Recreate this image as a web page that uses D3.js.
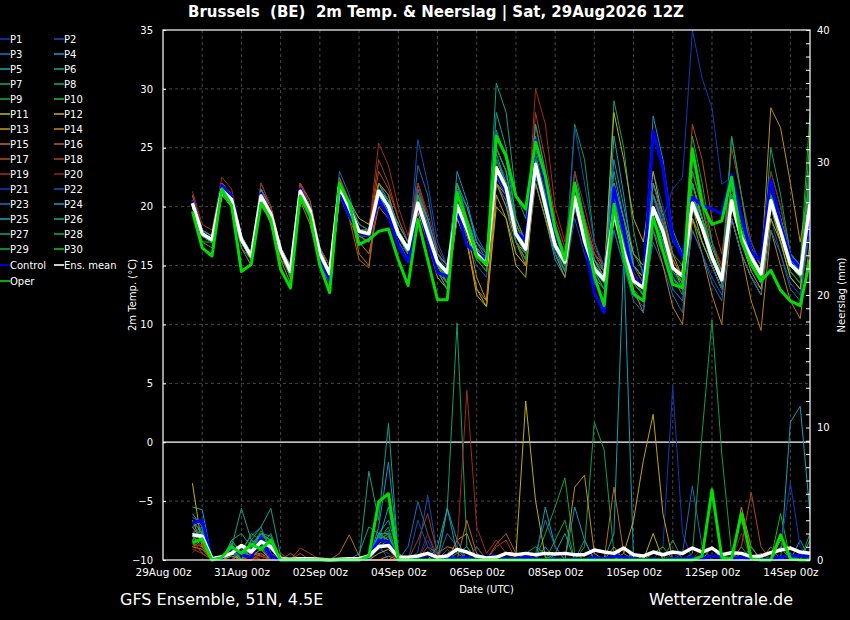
<!DOCTYPE html>
<html>
<head>
<meta charset="utf-8">
<script src="https://cdn.jsdelivr.net/npm/d3@7"></script>
<style>
  body { margin: 0; background: #000; }
  svg { display: block; font-family: "DejaVu Sans", sans-serif; }
</style>
</head>
<body>
<div id="chart"></div>
<script>
// run 29Aug2026 12Z, 6-hourly steps out to +384h
const runTime = Date.UTC(2026, 7, 29, 12);
const stepHours = d3.range(6, 385, 6);

const tempTicks = [-10, -5, 0, 5, 10, 15, 20, 25, 30, 35];
const rainTicks = [0, 10, 20, 30, 40];
const dateTicks = ['2026-08-29', '2026-08-31', '2026-09-02', '2026-09-04', '2026-09-06',
  '2026-09-08', '2026-09-10', '2026-09-12', '2026-09-14'];

// 2m temperature (°C)
const meanTemp = [20.3,17.7,17.2,21.4,20.6,17.2,15.8,20.9,19.4,16.3,14.5,21.3,19.7,16.0,14.3,21.7,
  19.9,17.9,17.7,21.3,20.0,17.7,16.4,20.3,17.8,15.3,14.4,20.1,18.1,16.0,15.1,23.3,
  21.6,17.7,16.4,23.6,20.1,16.7,15.3,20.8,17.1,14.7,13.8,19.6,16.2,13.7,13.1,19.9,
  17.9,14.8,14.1,20.3,18.2,15.7,13.8,20.5,17.4,15.7,14.3,20.5,17.9,15.1,14.3,20.2];
const controlTemp = [20.5,17.7,17.2,21.8,20.9,17.2,15.8,21.1,19.4,16.3,14.5,21.5,19.7,15.8,13.7,21.2,
  19.2,17.8,17.5,20.6,19.2,16.7,15.3,20.3,17.2,14.4,14.1,19.8,16.7,16.1,15.5,23.0,
  21.2,17.8,17.2,25.6,22.0,17.5,15.8,20.6,17.0,12.7,11.0,21.6,17.9,14.0,13.3,26.4,
  23.3,17.4,15.7,20.8,20.1,19.8,19.4,22.7,19.1,16.2,15.4,22.3,18.5,15.7,14.8,18.8];
const operTemp = [19.6,16.5,15.8,21.5,20.1,14.5,15.1,20.3,18.9,14.7,13.1,20.9,19.2,15.0,12.7,22.0,
  20.3,16.8,17.2,17.9,18.1,15.5,13.3,18.9,15.5,12.1,12.1,21.2,18.6,15.8,15.1,26.0,
  24.3,20.9,19.8,25.5,22.6,18.1,15.5,22.0,18.4,14.1,11.6,20.2,15.7,12.6,12.0,19.1,
  16.2,13.4,13.1,24.9,20.2,18.5,18.8,22.5,17.1,15.1,13.7,14.6,12.9,12.0,11.6,15.5];

const tP01 = [20.5,18,17.5,22,21,17.5,16,21.5,19.5,16.5,15,21.5,20,16.5,14.5,22, 20.5,18.5,18,22,20.5,18,16.5,21,19,16,15,21,19,17,16,24, 22.5,19,17,25,22,18,16,22,19,16,15,22,18,15,14,23, 20,17,16,21,19,17,15,22,19,17,15,22,19,16,15,21];
const tP02 = [20,17.5,17,21,20,17,15.5,20.5,19,16,14,21,19.5,15.5,14,21.5, 19.5,17.5,17,21,19,17,16,20,17,14.5,13.5,19,17,15,14,22, 20,16,15,22,19,16,14,19,16,13.5,12.5,18,15,12.5,11.5,18, 16,13,12,18,16,14,12.5,19,16,14,13,19,16,13.5,12.5,18];
const tP03 = [20.5,18,17.5,22,21,17.5,16,22,20,16.5,15,22,20.5,16.5,14.5,23, 21,18,17.5,22,20,17,15.5,23.5,21,16,14.5,21.5,20,17.5,16,25, 23,18,16.5,24,21,17,15.5,21,18,15,14,19,15.5,13,12,17, 15,12.5,11,19,17,15,13,21,18,16,14.5,21,18,15,14,20];
const tP04 = [20,17.5,17,21.5,20.5,17,15.5,21,19.5,16,14.5,21.5,20,16,14,22.5, 20,18,17.5,21,19.5,17.5,16,22,19,15.5,14,23,20.5,17,15.5,22, 20.5,17,15.5,23,20,16.5,14.5,23,19,15.5,14,24,20,16,14.5,21, 18.5,15,14,22,19,16,14,21,18,16,14.5,22,19,16,15,21];
const tP05 = [20.5,18,17.5,21.5,21,17.5,16,21,19,16,14.5,21,19.5,16,14,21.5, 20,18,18,21.5,20.5,18,16.5,20.5,18,15,13.5,21,19,16,15,24, 22,18,16.5,22,19,15.5,14,20,17,14,13,26,21,15,13.5,20, 18,15,14,21,19,16.5,14.5,20,17,15.5,14,20,18,15,14,22];
const tP06 = [20,17.5,17,22,21,17,16,21.5,19.5,16.5,14.5,22,20,16,14.5,22, 20,18,17.5,22,20.5,18.5,17,21,18.5,16,15,22,19,16.5,15.5,30.5, 28,21,19,26,22,18,16,22,18,15,14,21,17,14,13,20, 18,15,14,22,19,16,14,21,18,16,14.5,20,18,15,14,19];
const tP07 = [20,17.5,17,21,20.5,17,15.5,20.5,19,16,14,21,19.5,15.5,14,21.5, 19.5,17.5,17.5,21,20,18,16.5,19.5,17.5,15,14,20,18,16,15,22, 21,17.5,16,24,21,17,15.5,20,17,14.5,13.5,29,25,18,14,21, 18,15,14,20,18,15.5,13.5,21,18,16,14.5,21,18.5,15.5,14.5,21];
const tP08 = [20,17.5,17,21,20.5,17,16,21,19,16,14.5,21,19.5,16,14,21.5, 20,18,18,21.5,20,18,16.5,20,18,15.5,14.5,19.5,18,16,15,23, 22,18,16.5,23,20,16.5,15,27,24,17,14.5,20,17,14,13,19, 17,14,13,19,17,15,13,26,21,16,14,20,17,15,14,24];
const tP09 = [20,18,17.5,21.5,21,17.5,16,21,19.5,16.5,14.5,21,20,16,14.5,21.5, 20,18,18,21,20,18,16.5,20.5,18,15.5,14,20,18.5,16,15,24, 22,18,16,23,19.5,16,14.5,20,17,14.5,13,20,16.5,13.5,12.5,22, 19,15,14,21,18,15.5,13.5,20,17,15,13.5,23,20,16,15,28];
const tP10 = [19.5,17,16.5,21,20,17,15.5,20.5,19,16,14,20.5,19.5,15.5,13.5,21, 19.5,17.5,17,21,20,17.5,16,20,17.5,14.5,13.5,19.5,17.5,15.5,14.5,23, 21,17,15.5,23,20,16.5,15,20.5,17.5,15,14,19,16,13.5,12.5,19, 17,14,13,19,17,15,13,20,17,15,13.5,21,18,14.5,13.5,20];
const tP11 = [20,17.5,17,21.5,20.5,17,15.5,21,19.5,16,14.5,21.5,20,16,14.5,22, 20.5,19,18.5,22,21,18,16.5,19.5,17,14,13,19,17,12.5,11.5,21, 19,15,14,23,20,17,15,21,17.5,15,14,28,24,19,17,23, 19,15,13,20,17,15,13,19,16,14,12.5,19,17,14,13,19];
const tP12 = [20.5,18,17.5,22,21,17.5,16,21.5,20,16.5,15,22,20,16.5,15,22, 20,18,17.5,21.5,20,17.5,16,20,17.5,15,13.5,20,17,13,11.5,20, 19,16,15,24,21,17,15,21,18,15.5,14,22,19,16,15,21, 19,15.5,14,20,18,15,13,20,17,14.5,13,20,17,14,13,20];
const tP13 = [21,18,17.5,22,21,17.5,16,21.5,19.5,16,15,21.5,20,16,14.5,22, 20,17.5,17,21,20,17.5,16,21,18,15,14,20,18,14,12,22, 20,17,16,25,22,18,16,22,19,16,14.5,21,18,15,14,22, 19,16,14,22,19,16,14,22,19,16,14.5,28.4,26.7,22,17,22];
const tP14 = [20.5,17.5,17,21,20,16.5,15,20.5,18.5,15.5,13.5,20.5,18.5,15,13.5,21, 19,17,16,20,19,17,15.5,20,17.5,14.5,13,19,17,13,12,22, 21,17,15,22,19,16,14,20,17.5,15,14,21,17,13,11,18, 15,11.5,10,19,16,12.5,10,19,16,12,9.5,18,15,12,10.5,17];
const tP15 = [20.5,18,17.5,21.5,20.5,17,15.5,21,19.5,15.5,14.5,22,20,15.5,14,22, 20,16,15,22,21,18,16,21,18.5,15.5,14.5,21,19,16.5,15,23, 21.5,17.5,16,24,21,17,15,21,18,15.5,14,21,18,15,14,20, 18,15,14,21,18,15.5,13.5,21,18,16,14.5,21,18,15,14,21];
const tP16 = [20.5,18,17.5,22,21,17,15.5,21,19.5,16,14.5,21.5,19.5,16,14.5,22, 19,15.5,14.8,21,20,18,16.5,21,18,15,14,21,18.5,16.5,15,23.5, 22,18,16,25,22,17.5,15.5,21,18,15,14,20,17,14,13,21, 19,15.5,14,25,21,17,14.5,21,18,16,14,21,18,15,14,23];
const tP17 = [21,18,17.5,22,21,17.5,16,21.5,19.5,16.5,15,22,20.5,16.5,15,22.5, 20.5,18,18,23,21.5,19,17,21.5,19,16,15,21,19,16.5,15.5,25, 23,18.5,17,27,23,18.5,16,22,19,16,15,21,18,15,14,20, 18,15,14,27,24,19,16,22,19,16.5,15,22,19,16,15,23];
const tP18 = [21,18,17.5,22,21,17,16,21.5,20,16.5,15,22,20,16,14.5,22, 20,18,18,24,22,19,17,22,19,16,15,20.5,18.5,16,15,23, 21,17.5,16,28,24,19,16.5,22,19,16,14.5,20,17,14,13,21, 18,15,13.5,23,20,17,15,25,21,17,15,21,18,15.5,14.5,22];
const tP19 = [21.3,18.5,18,22.5,21.5,17.5,16,22,20,16.5,15,22,20,16.5,15,22, 20,18.5,18,25.4,23.5,20,17.5,22,19.5,16.5,15,21,19,16,15,24, 22,18,16.5,30,27,20,17,23,20,16.5,15,22,18,15,13.5,21, 18,15,14,23,20,16,14,22,19,16,14.5,22,19,16,14.5,21];
const tP20 = [20.5,18,17.5,21.5,20.5,17,15.5,21,19,16,14.5,21,19.5,16,14.5,21.5, 19.5,17.5,17.5,20.5,19.5,17.5,16,20.5,18,15,14,20,18,16,15,23, 21,17,15.5,24,21,17,15,21,17.5,15,14,20,17,14.5,13,22, 19,15,14,24,21,17,15,21,18,15.5,14,23,20,16,14.5,21];
const tP21 = [20,17.5,17,21.5,20.5,17,16,21,19.5,16,14.5,21.5,20,16,14,22, 20,18,17.5,21,20,18,16.5,21,19,15.5,14.5,20.5,18.5,16,15,24, 22,17.5,16,24,21,17,15,21,18,15,14,20,17.5,15,14,21, 19,21.5,22.5,35,30.9,28.4,21.9,22.5,19,17,15,21,18,15,14,20];
const tP22 = [20,17.5,17,21.5,20.5,17,15.5,20.5,19,16,14.5,21,19.5,16,14,21, 19.5,17.5,17,21,19.5,17,15.5,25.7,22,17,15,22,19,16,15,23, 21,17,15.5,22.5,20,16,14.5,26.8,22,17,15,21,17.5,14,13,21, 18,14.5,13,21,18,15,13,21,18,15,13.5,22,19,16,15,21];
const tP23 = [20.5,18,17.5,21.5,21,17.5,16,21,19,16,14.5,21,19.5,16,14.5,22, 20,18,17.5,21,19.5,17.5,16,21.5,18.5,15,14,21,18.5,16,15,25, 23,18,16,23.5,20,16,14.5,20,17,14.5,13.5,18,15,12,11,18, 16,13,12,18,16,13.5,12,19,16,14,12.5,18,16,13,12,19];
const tP24 = [20,17.5,17,21.5,20.5,17,15.5,21,19.5,16.5,14.5,21.5,20,16,14.5,22, 20,18,17.5,21.5,20.5,18,16.5,20,17.5,14.5,13,20,18,16,15,26.5, 24,19,17,25,22,17.5,15.5,21,18,15.5,14,22,19,15,14,27.7, 24,18,16,20,18,15.5,13.5,21,18,16,14.5,21,18,15.5,14.5,22];
const tP25 = [20.5,18,17.5,21.5,21,17.5,16,21.5,19.5,16.5,15,21.5,20,16.5,14.5,22, 20.5,18.5,18,21.5,20.5,18.5,17,21,19,16,15,22,20,17,16,24.5, 22,18,16.5,24,21,17,15,22,18.5,15.5,14.5,21,18,15,14,22, 19.5,16,15,21,18.5,16,14,22,19,16.5,15,21,19,16,15,21];
const tP26 = [20,17.5,17,21,20.5,17,15.5,21,19.5,16,14.5,21,19.5,16,14,21.5, 20,18,17.5,21,20,17.5,16,20,18,15,14,21,19,16.5,15,28, 25,19,17,27,23,18,16,21,18,15,14,23,19,15,14,21, 18.5,15,13.5,22,19,16,14,21,18,15.5,14,22,19,15.5,14.5,21];
const tP27 = [20,17.5,17,21.5,20.5,17,15.5,21,19,16,14.5,21,19.5,16,14,21.5, 20,18,18,21,20,18,16.5,20.5,18,15.5,14.5,20,18,16,15,23, 21,17,15.5,23,20,16.5,15,21,17,14.5,13,19.5,16,13.5,12.5,20, 17,14,13,23,20,16,14,26,21,16,14,25,21,16,14.5,23];
const tP28 = [20,17.5,17,21,20,16.5,15.5,21,19,16,14,21,19.5,15.5,13.5,21.5, 19.5,17.5,17,21,19.5,17.5,16,20,17.5,15,13.5,21,18.5,16,15,24, 22,17.5,16,24.5,21,16.5,14.5,21,17.5,15,13.5,21,17.5,14,12.5,20, 17.5,14,12.5,26,22,17,14,21,18,15,13.5,20,17.5,14.5,13.5,19];
const tP29 = [20,17.5,17,21.5,20.5,17,15.5,21,19.5,16,14.5,21.5,20,16,14,22, 20,18,17.5,21.5,20,18,16.5,20,18,15,14,20,18,15.5,14.5,22.5, 21,17,15.5,23,20,16.5,15,21,17.5,15,14,20,17,14,13,20, 17.5,14.5,13.5,21,18.5,15.5,13.5,22,18,15.5,14,21,18,15,14,22];
const tP30 = [19.5,17,17,21,20,17,15.5,21,19,16,14.5,21,19.5,16,14,21.5, 20,18,17.5,21,20,17.5,16,21,18,15,14,22,19,16,15,25, 23,18.5,16.5,23,20,17,15,22,18,15,14,20,16.5,13.5,12.5,20, 18,15,13.5,22,19,16,14,22,18.5,15.5,14,22,19,15,14,26];

// 6-hourly precipitation (mm)
const meanRain = [1.9,1.8,0.1,0.25,0.5,1.1,0.6,1.4,1.0,0.1,0.05,0.1,0.1,0.05,0,0.05,
  0.1,0.1,0.3,1.0,1.1,0.2,0.2,0.3,0.5,0.2,0.3,0.8,0.6,0.3,0.15,0.2,
  0.5,0.4,0.5,0.4,0.5,0.45,0.5,0.4,0.4,0.75,0.6,0.5,0.9,0.4,0.3,0.6,
  0.4,0.6,0.5,0.9,0.6,0.9,0.4,0.55,0.5,0.25,0.3,0.55,0.75,0.9,0.6,0.5];
const controlRain = [2.8,3.0,0,0.1,0.9,0.4,0.2,1.7,0.3,0,0,0,0,0,0,0,
  0,0,0.2,1.5,1.4,0.1,0,0.2,0.4,0.1,0.2,0.1,0.2,0,0.2,0.3,
  0.1,0.1,0.2,0.1,0,0.1,0,0.1,0,0.2,0.1,0.3,0.2,0.1,0,0.1,
  0,0.1,0.1,0.2,0.1,0.3,0.2,0.1,0.2,0.1,0,0.1,0.2,0.3,0.3,0.3];
const operRain = [1.3,1.6,0,0.2,1.0,0.5,1.2,0.8,1.5,0,0,0,0,0,0,0,
  0,0,0.3,4.4,5.0,0,0,0,0,0,0,0,0,0,0,0,
  0,0,0,0,0,0,0,0,0,0,0,0,0,0,0,0,
  0,0,0,0,0.3,5.3,0.2,0.1,3.5,0.1,0,0,1.9,0.1,0,0];

const rP01 = [2.5,1.5,0,0,0.5,0.3,1.2,0.8,0,0,0,0,0,0,0,0, 0,0,0,0.8,0.5,0,0,0,1.5,0,0,0,0,0,0,0, 0,0,0,0,0,0,0,0,0,0.5,0,0,0,0,0,0, 1.0,13.1,2.0,0,0,0,0,0,0,0.3,0,0,0,0,0,0];
const rP02 = [1.8,2.2,0,0,0.8,0,0.5,1.0,0.3,0,0,0,0,0,0,0, 0,0,0.5,1.2,0,0,0,0.6,4.9,0.4,0,0,0,0,0,0, 0,0,0,0,0,0,0,0,0,0,0,0,0.3,0,0,0, 0,0,0,0,0,0,0,0,0,0,0,0,0,0.5,0,0];
const rP03 = [3.2,2.8,0,0,0,1.2,0.8,1.5,0.5,0,0,0,0,0,0,0, 0,0,0,1.5,2.0,0,1.0,4.4,2.0,0,0.8,0,0,0,0,0, 0,0,0,0,0,0,0,0,0,0,0,0,0,0,0,0, 0,0,0.5,5.6,1.0,0,0,0,0,0,0,0,0,0.5,0,0];
const rP04 = [2.0,1.5,0,0,1.3,0.8,1.8,2.5,0.5,0,0,0,0,0,0,0, 0,0,0,2.5,7.4,0.5,0,0,0,0,3.9,1.5,0,0,0,0, 0,0,0,0,1.0,0,0,0,0,0,0,0,0,0,0,0, 0,0,0,0,0,0,0,0,0,0,0,0,0,0,1.5,0];
const rP05 = [4.0,3.8,0,0,0.5,0,0.6,1.2,0.8,0,0,0,0,0,0,0, 0,0,0,1.0,1.5,0,0,0,0,0,0,0,0,0,0,0, 0,0,0,0,4.0,1.0,0,0,0,0,0,2.0,23,0,0,0, 0,0,0,0,0,0,0,0,0,0,0,0,0,10.4,11.6,3.5];
const rP06 = [2.5,3.0,0,0,1.0,3.9,1.5,2.5,3.9,0.3,0,0,0,0,0,0, 0,0,6.7,3.0,10.3,0.3,0,0,0,0,0,0.5,1.0,0,0,0, 0,0,0,0,0,0,0,0,1.5,0,0,0,0,0,0,0, 0,0,0,0,0,0,0,0,0,0,0,0,0,0,0,0];
const rP07 = [1.5,2.0,0,0,0.3,0,1.0,1.0,2.0,0,0,0,0,0,0,0, 0,0,0,1.2,1.0,0,0,0,0,0,3.9,17.9,1.0,0,0,0, 0,0,0,0,0,0,0,0,0,0,0,0,0,0.5,0,0, 0,0,0,0,0,0,0,0,0,0,0,0,0,0,0,0];
const rP08 = [2.0,1.5,0,0,1.5,0.5,2.0,1.5,1.0,0,0,0,0,0,0,0, 0,0,0,1.5,2.5,0,0,0,0,0,0,0,0,0,0,0, 0,0,0,0,0,0,0,0,1.0,10.4,8.3,0.5,0,0,0,0, 0,0,0,0,0,0,0,0,0,0,0.5,0,0,0,0,0];
const rP09 = [1.5,2.5,0,0,1.0,0,0.8,2.0,1.5,0,0,0,0,0,0,0, 0,0,0,2.0,1.5,0,0,0,0,0,0,0,0,0,0,0, 0,0,0,0,2.0,4.0,6.2,0.5,0,0,0,0,0,0,0,0, 0,0,0,0,0,0,0,0,1.0,0,0,0,0,0,0,0];
const rP10 = [1.0,1.5,0,0,0.8,0,0.5,1.8,0.5,0,0,0,0,0,0,0, 0,0,0,2.0,2.0,0,0,0,0,0,0,0,0,0,0,0, 0,0,0,0,0,0,0,0,0,0,0,0,0,0.5,0,0, 0,0,0,0,0,0,0,0,0,0,0,0,3.5,0,0,0];
const rP11 = [5.8,1.0,0,0,0,0.5,0.3,0.8,0,0,0,0,0,0,0,0, 0,0,0,0,0,0,0,0,0,0,0,0,0,0,0,0, 0,0.3,12.0,4.5,0.2,0,0,0,0,0,0,0,0,0,0,2.0, 0,0,0,0,0,0,0,0,0,0,0,0,0,0,0,0];
const rP12 = [3.0,1.2,0,0,0.5,0,1.5,1.0,0,0,0,0,0,0,0,0, 0,0,0,0.5,0.8,0,0,0,0,0,0,0,0,0,0,0, 0,0,0,0,0,0,0,0,0,0,0,0,0.5,3.0,7.5,11.0, 3.5,0,0,0,0,0,0,0,0,0,0,0,0,0,0,0];
const rP13 = [1.0,0.8,0,0,0,0,0.4,0.5,0,0,0,0,0,0,0,0, 0,0,0,0,0.3,0,0,0,0,0,0,1.5,2.0,0,0,0, 0,0,0,0,0,0,0,5.5,6.4,0.5,0,0,0,0,0,0, 0,0,0,0,0,0,0,0,4.0,1.0,0,0,0,0,0,0];
const rP14 = [2.5,1.5,0,0,0.3,0,0.5,0.3,0,0,0,0,0,0,0,0, 0,0,0,0,0,0,0,0,0,0.5,1.0,0.8,0,0,0,0, 0,0,0,0,0,0,0,0,0,0,0,1.0,0,0,0,0, 0,0,0,0,0,0,0,0,0,0,0,0,1.5,0,0,0];
const rP15 = [1.8,1.0,0,0,0,0,0,0.5,0,0,0,0,0,0,0,0.5, 1.9,0.3,0,0,0,0,0,0,0,0,0,0,3.0,0.5,0,0, 0,0,0,0,0,0,0,0,0,0,0,5.5,0.5,0,0,0, 0,0,0,0,0,0,0,0,0,0,0,0,0,0,0,0];
const rP16 = [1.2,1.0,0,0,0,0,0.3,0,0,0,0.5,0,0,0,0,0, 0,0,0,0,0,0.5,0,0,0,0,0,0,0,1.0,0,1.2, 2.0,0.5,0,0,0,0,0,0,0,0,0,0,0,0,0,0, 0,0,0,0,0,0,0,0,0,0,0,1.0,0,0,0,0];
const rP17 = [1.5,0.5,0,0,0,0,0,0.5,0,0.5,0,0.5,0,0,0,0, 0,0,0,0,0,0,0,0,1.0,0.5,0,0,0,0,0,0, 0,0,0,0,0,0,0,0,0,0,0,0,0,0,0,0, 0,0,0,0,0,0,0,0,1.0,5.1,1.0,0,0,0,0,0];
const rP18 = [1.0,1.2,0,0,0,0,0.5,0,0,0,0,0.9,0.5,0,0,0, 0,0,0,0,0,0,0,1.5,3.5,0.5,0,0,0,0,0,1.0, 1.5,0,0,0,0,0,0,0,0,0,0,0,0,0,0,0, 0,0,0,0,0,0,0,0,0,0,0,0,0,0,0,0];
const rP19 = [0.8,0.5,0,0,0,0,0,0.3,0,0,0,0,0,0,0,0, 0,0,0,0,0,0,0,0,0,0,0.5,1.0,12.8,2.5,0.5,1.5, 0.5,0,0,0,0,0,0,0,0,0,0,0,0,0,0,0, 0,0,0,0,0,0,0,0,0,0,0,0,0,0,0,0];
const rP20 = [0.5,1.5,0,0,0,0,0.5,0,0.5,0,0,0,0,0,0,0, 0,0,0,0,0,0,0,0,2.0,0.3,0,0,0,0,0,0, 0,0,0,0,0,0,0,0,0,0,0,0,0,0,0,0, 0,0,0,0,1.0,0,0,0,2.0,0,0,0,0,0,0,0];
const rP21 = [2.0,1.8,0,0,0.8,0,1.0,1.5,0,0,0,0,0,0,0,0, 0,0,0,1.0,1.2,0,0,0,0,0,0,0,0,0,0,0, 0,0,0,0,0,0,0,0,0,0,0,0,0,0,0,0, 0,0.5,0,0,0,0,0,0,0,0,0,0,1.0,5.8,1.0,0];
const rP22 = [2.2,2.0,0,0,0,1.0,0.8,1.0,0,0,0,0,0,0,0,0, 0,0,0,1.5,2.0,0,0,3.0,1.0,0,0,0,0,1.0,0,0, 0,0,0,0,0,0,0,0,0,0,0,0,0,0,0,0, 0,0,0,0,0,0,0,0,0,0,0,0,0,0,0.5,0];
const rP23 = [2.8,2.2,0,0,1.0,0,1.2,2.0,1.0,0,0,0,0,0,0,0, 0,0,0,1.8,2.2,0,0,0,0,0,2.0,1.0,0,0,0,0, 0,0,0,0.5,3.0,1.0,0,0,0,0,0,0,0,0,0,0, 0,0,0,0,0,0,0,0,0,0,0,0,0,0,0,0];
const rP24 = [3.5,2.5,0,0,0.8,0,1.5,1.2,1.2,0,0,0,0,0,0,0, 0,0,0,2.0,3.0,0.5,0,0,0,0,0,0,0,0,0,0, 0,0,0,0,0,0,0,4.0,1.5,0,0,0,1.0,0,0,0, 0,0,0,0,0,0,0,0,0,0,0,0,0,0,0,0];
const rP25 = [3.0,2.0,0,0,1.2,0,0.8,2.0,1.8,0,0,0,0,0,0,0, 0,0,0,1.5,4.0,0,0,0,0,1.0,3.9,0.5,0,0,0,0, 0,0,0,0,0,0,0,0,0,0,0,0,0,0,0,0, 0,0,0,0,0,0,0,0,0,0,0,0,0,0,0,1.5];
const rP26 = [2.0,2.5,0,0,1.5,2.0,1.0,2.0,1.5,0,0,0,0,0,0,0, 0,0.5,2.5,2.0,1.5,0,0,0,0,0,0,0,0,0,0,0, 0,0,0,0,0,0.5,2.0,0,0,0,0,0,0,0,0,0, 0,0,0,0,0,0,0,0,0,0,0,0,0,0,0,0];
const rP27 = [1.5,2.0,0,0,1.0,0,1.0,1.8,1.5,0,0,0,0,0,0,0, 0,0,0,1.8,1.5,0,0,0,0,0,0,0,0,0,0,0, 0,0,0.5,1.0,0.5,0,0,0,0,0,0,0,0,0,0,0, 0,1.5,0,0,0,1.0,0,0,0,0,0,0,0,0,0,0];
const rP28 = [2.0,1.8,0,0,0.8,0,1.2,1.5,1.2,0,0,0,0,0,0,0, 0,0,0,1.0,1.0,0,0,0,0,0,0,0,0,0,0,0, 0,0,0,0,0,0,0,0,0,0,0,0,0,0,0,0, 0,0,0,0.5,9.6,18.1,8.0,0.5,0,0,0,0,0,0,0,0];
const rP29 = [1.8,2.2,0,0,1.2,0,1.0,2.2,1.0,0,0,0,0,0,0,0, 0,0,0,1.5,2.0,0,0,0,0,0,0,0,0,0,0,0, 0,0,0,0,0,1.5,3.0,0,0,0,0,0,0,0,0,0, 0,0,0,0,0,0,0,0,0,1.0,0,0,0,0,0,2.0];
const rP30 = [1.5,1.5,0,0,1.0,0,0.8,1.5,1.0,0,0,0,0,0,0,0, 0,0,0,1.2,1.8,0,0,0,0,0,0,0,0,0,0,0, 0,0,0,0,0,0,0,0,0,0,0,0,0,0,0,0.5, 1.0,0,0,0,0,0,0,0,0.5,0,0,0,1.0,0,0,0];

const memberTemps = [tP01,tP02,tP03,tP04,tP05,tP06,tP07,tP08,tP09,tP10,tP11,tP12,tP13,tP14,tP15,
  tP16,tP17,tP18,tP19,tP20,tP21,tP22,tP23,tP24,tP25,tP26,tP27,tP28,tP29,tP30];
const memberRains = [rP01,rP02,rP03,rP04,rP05,rP06,rP07,rP08,rP09,rP10,rP11,rP12,rP13,rP14,rP15,
  rP16,rP17,rP18,rP19,rP20,rP21,rP22,rP23,rP24,rP25,rP26,rP27,rP28,rP29,rP30];
const memberNames = d3.range(1, 31).map(n => 'P' + n);

// palette repeats every 20 members
const memberColors = ['#1438b8','#1050b8','#1a6cb8','#1a90c0','#12a0b0','#10a088','#10a068','#12a048','#14a830','#18b818',
  '#b8b010','#c0a410','#c09010','#c08010','#b86c10','#b05c10','#b04818','#a83c18','#a02c18','#902018'];

const times = stepHours.map(h => new Date(runTime + h * 3600e3));

const W = 850, H = 620;
const box = { l: 163, r: 810, t: 30, b: 560 };

const svg = d3.select('#chart').append('svg')
  .attr('width', W)
  .attr('height', H);

svg.append('rect').attr('width', W).attr('height', H).attr('fill', '#000');

const x = d3.scaleUtc()
  .domain([new Date(Date.UTC(2026, 7, 29, 0)), new Date(Date.UTC(2026, 8, 14, 12))])
  .range([box.l, box.r]);
const yT = d3.scaleLinear().domain([-10, 35]).range([box.b, box.t]);
const yP = d3.scaleLinear().domain([0, 40]).range([box.b, box.t]);

// grid
const days = d3.utcDay.range(new Date(Date.UTC(2026, 7, 30)), new Date(Date.UTC(2026, 8, 14, 1)));
svg.append('g').selectAll('line').data(days).enter().append('line')
  .attr('x1', d => x(d)).attr('x2', d => x(d))
  .attr('y1', box.t).attr('y2', box.b)
  .attr('stroke', '#484848').attr('stroke-dasharray', '3,3');
svg.append('g').selectAll('line').data(tempTicks.filter(t => t !== 0 && t > -10 && t < 35)).enter().append('line')
  .attr('x1', box.l).attr('x2', box.r)
  .attr('y1', d => yT(d)).attr('y2', d => yT(d))
  .attr('stroke', '#484848').attr('stroke-dasharray', '3,3');
svg.append('line')
  .attr('x1', box.l).attr('x2', box.r)
  .attr('y1', yT(0)).attr('y2', yT(0))
  .attr('stroke', '#fff').attr('stroke-width', 1.2);

svg.append('clipPath').attr('id', 'plotclip')
  .append('rect').attr('x', box.l).attr('y', box.t - 1).attr('width', box.r - box.l).attr('height', box.b - box.t + 3);

const plot = svg.append('g').attr('clip-path', 'url(#plotclip)');

const tempLine = d3.line().x((d, i) => x(times[i])).y(d => yT(d));
const rainLine = d3.line().x((d, i) => x(times[i])).y(d => yP(d));

memberRains.forEach((r, k) => {
  plot.append('path').datum(r).attr('d', rainLine)
    .attr('fill', 'none').attr('stroke', memberColors[k % 20]).attr('stroke-width', 1);
});
memberTemps.forEach((t, k) => {
  plot.append('path').datum(t).attr('d', tempLine)
    .attr('fill', 'none').attr('stroke', memberColors[k % 20]).attr('stroke-width', 1);
});

const mains = [
  { t: controlTemp, r: controlRain, color: '#0000ff', w: 3 },
  { t: meanTemp, r: meanRain, color: '#ffffff', w: 3.5 },
  { t: operTemp, r: operRain, color: '#00dd00', w: 3 }
];
mains.forEach(s => {
  plot.append('path').datum(s.r).attr('d', rainLine)
    .attr('fill', 'none').attr('stroke', s.color).attr('stroke-width', s.w).attr('stroke-linejoin', 'round');
  plot.append('path').datum(s.t).attr('d', tempLine)
    .attr('fill', 'none').attr('stroke', s.color).attr('stroke-width', s.w).attr('stroke-linejoin', 'round');
});

// frame
svg.append('rect')
  .attr('x', box.l).attr('y', box.t).attr('width', box.r - box.l).attr('height', box.b - box.t)
  .attr('fill', 'none').attr('stroke', '#fff').attr('stroke-width', 1.2);

// axes
const styleAxis = g => {
  g.select('.domain').remove();
  g.selectAll('line').attr('stroke', '#fff');
  g.selectAll('text').attr('fill', '#fff').attr('font-family', '"DejaVu Sans", sans-serif');
};

svg.append('g')
  .attr('transform', `translate(${box.l},0)`)
  .call(d3.axisLeft(yT).tickValues(tempTicks).tickSizeInner(-3).tickSizeOuter(0).tickPadding(10))
  .call(styleAxis)
  .selectAll('text').attr('font-size', 10);

svg.append('g')
  .attr('transform', `translate(${box.r},0)`)
  .call(d3.axisRight(yP).tickValues(d3.range(0, 41, 1)).tickSizeInner(-4).tickSizeOuter(0).tickPadding(7)
    .tickFormat(d => rainTicks.includes(d) ? d : ''))
  .call(styleAxis)
  .selectAll('text').attr('font-size', 10);

const labelDays = dateTicks.map(s => new Date(s + 'T00:00:00Z'));
svg.append('g')
  .attr('transform', `translate(0,${box.b})`)
  .call(d3.axisBottom(x).tickValues(labelDays).tickFormat(d3.utcFormat('%d%b %Hz')).tickSize(0).tickPadding(9))
  .call(styleAxis)
  .selectAll('text').attr('font-size', 10.5);

// axis titles
svg.append('text')
  .attr('transform', 'translate(136,295) rotate(-90)')
  .attr('text-anchor', 'middle').attr('fill', '#fff').attr('font-size', 10)
  .text('2m Temp. (°C)');
svg.append('text')
  .attr('transform', 'translate(845,295) rotate(-90)')
  .attr('text-anchor', 'middle').attr('fill', '#fff').attr('font-size', 10)
  .text('Neerslag (mm)');
svg.append('text')
  .attr('x', (box.l + box.r) / 2).attr('y', 593)
  .attr('text-anchor', 'middle').attr('fill', '#fff').attr('font-size', 10)
  .text('Date (UTC)');

// title and footer
svg.append('text')
  .attr('x', 436).attr('y', 17)
  .attr('text-anchor', 'middle').attr('fill', '#fff')
  .attr('font-size', 15).attr('font-weight', 'bold')
  .style('white-space', 'pre')
  .text('Brussels  (BE)  2m Temp. & Neerslag | Sat, 29Aug2026 12Z');
svg.append('text')
  .attr('x', 120).attr('y', 605)
  .attr('fill', '#fff').attr('font-size', 16)
  .text('GFS Ensemble, 51N, 4.5E');
svg.append('text')
  .attr('x', 793).attr('y', 605)
  .attr('text-anchor', 'end').attr('fill', '#fff').attr('font-size', 16)
  .text('Wetterzentrale.de');

// legend
const legendItems = memberNames.map((name, k) => ({
  name: name,
  color: memberColors[k % 20],
  col: k % 2,
  y: 39 + Math.floor(k / 2) * 15
}));
legendItems.push({ name: 'Control', color: '#0000ff', col: 0, y: 265 });
legendItems.push({ name: 'Ens. mean', color: '#ffffff', col: 1, y: 265 });
legendItems.push({ name: 'Oper', color: '#00dd00', col: 0, y: 281 });

const legend = svg.append('g');
const colX = [0, 54];
legendItems.forEach(d => {
  const x0 = colX[d.col];
  legend.append('line')
    .attr('x1', x0).attr('x2', x0 + 10)
    .attr('y1', d.y).attr('y2', d.y)
    .attr('stroke', d.color).attr('stroke-width', 1.6);
  legend.append('text')
    .attr('x', x0 + 10).attr('y', d.y + 3.6)
    .attr('fill', '#fff').attr('font-size', 10)
    .text(d.name);
});
</script>
</body>
</html>
